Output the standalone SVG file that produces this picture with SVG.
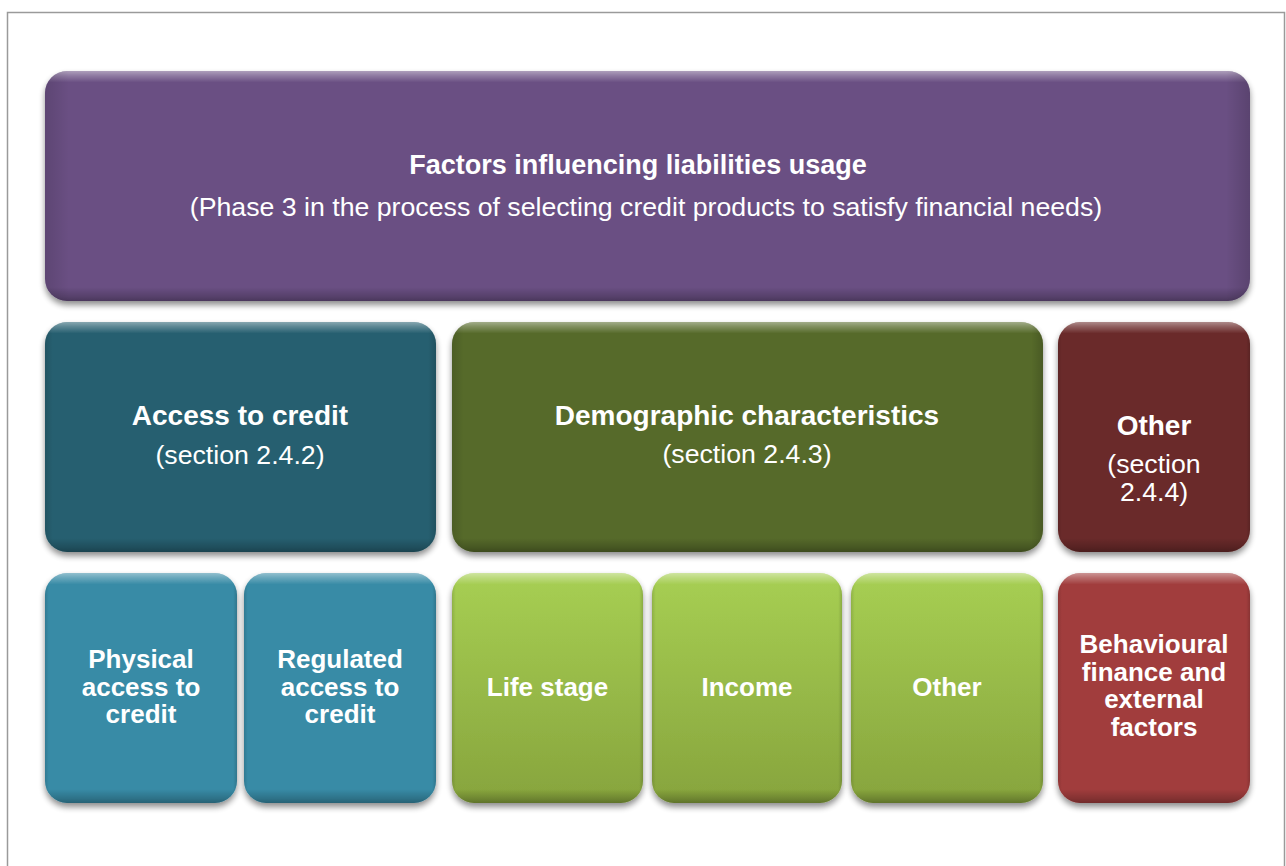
<svg xmlns="http://www.w3.org/2000/svg" width="1286" height="866" viewBox="0 0 1286 866">
  <defs>
    <filter id="shadow" x="-5%" y="-5%" width="110%" height="115%">
      <feGaussianBlur in="SourceAlpha" stdDeviation="3"/>
      <feOffset dx="0" dy="4" result="b"/>
      <feComponentTransfer><feFuncA type="linear" slope="0.45"/></feComponentTransfer>
      <feMerge><feMergeNode/><feMergeNode in="SourceGraphic"/></feMerge>
    </filter>
    <linearGradient id="bevel" x1="0" y1="0" x2="0" y2="1">
      <stop offset="0" stop-color="#ffffff" stop-opacity="0.45"/>
      <stop offset="0.02" stop-color="#ffffff" stop-opacity="0.25"/>
      <stop offset="0.05" stop-color="#ffffff" stop-opacity="0"/>
      <stop offset="0.94" stop-color="#000000" stop-opacity="0"/>
      <stop offset="0.98" stop-color="#000000" stop-opacity="0.18"/>
      <stop offset="1" stop-color="#000000" stop-opacity="0.3"/>
    </linearGradient>
    <linearGradient id="side" x1="0" y1="0" x2="1" y2="0">
      <stop offset="0" stop-color="#000000" stop-opacity="0.12"/>
      <stop offset="0.02" stop-color="#000000" stop-opacity="0"/>
      <stop offset="0.98" stop-color="#000000" stop-opacity="0"/>
      <stop offset="1" stop-color="#000000" stop-opacity="0.15"/>
    </linearGradient>
    <linearGradient id="greenGrad" x1="0" y1="0" x2="0" y2="1">
      <stop offset="0" stop-color="#A7CF53"/>
      <stop offset="1" stop-color="#87A43D"/>
    </linearGradient>
  </defs>
  <style>
    .box { filter: url(#shadow); }
    .ov { fill: url(#bevel); }
    .sd { fill: url(#side); }
    .purple { fill: #6A5083; }
    .dteal { fill: #275F6F; }
    .dgreen { fill: #576A2C; }
    .maroon { fill: #6B2A29; }
    .lteal { fill: #378BA6; }
    .lgreen { fill: url(#greenGrad); }
    .red { fill: #A13C3C; }
    text { font-family: "Liberation Sans", Arial, sans-serif; fill: #ffffff; text-anchor: middle; font-size: 26.7px; }
    .b { font-weight: bold; font-size: 26px; }
    .t { font-weight: bold; font-size: 27px; }
    .h { font-weight: bold; font-size: 28px; }
  </style>
  <rect x="0" y="0" width="1286" height="866" fill="#ffffff"/>
  <path d="M7.5 870 V12.5 H1284.5 V870" fill="none" stroke="#9a9a9a" stroke-width="1.5"/>

  <g id="connectors"></g>

  <g id="n-top">
    <g class="box"><rect x="45" y="71" width="1205" height="230" rx="22" class="purple"/></g>
    <rect x="45" y="71" width="1205" height="230" rx="22" class="ov"/>
    <rect x="45" y="71" width="1205" height="230" rx="22" class="sd"/>
    <text x="638" y="174" class="t">Factors influencing liabilities usage</text>
    <text x="646" y="216">(Phase 3 in the process of selecting credit products to satisfy financial needs)</text>
  </g>

  <g id="n-access">
    <g class="box"><rect x="45" y="322" width="391" height="230" rx="22" class="dteal"/></g>
    <rect x="45" y="322" width="391" height="230" rx="22" class="ov"/>
    <rect x="45" y="322" width="391" height="230" rx="22" class="sd"/>
    <text x="240" y="425" class="h">Access to credit</text>
    <text x="240" y="464">(section 2.4.2)</text>
  </g>

  <g id="n-demo">
    <g class="box"><rect x="452" y="322" width="591" height="230" rx="22" class="dgreen"/></g>
    <rect x="452" y="322" width="591" height="230" rx="22" class="ov"/>
    <rect x="452" y="322" width="591" height="230" rx="22" class="sd"/>
    <text x="747" y="425" class="h">Demographic characteristics</text>
    <text x="747" y="463">(section 2.4.3)</text>
  </g>

  <g id="n-other-sec">
    <g class="box"><rect x="1058" y="322" width="192" height="230" rx="22" class="maroon"/></g>
    <rect x="1058" y="322" width="192" height="230" rx="22" class="ov"/>
    <rect x="1058" y="322" width="192" height="230" rx="22" class="sd"/>
    <text x="1154" y="435" class="h">Other</text>
    <text x="1154" y="473">(section</text>
    <text x="1154" y="501">2.4.4)</text>
  </g>

  <g id="n-physical">
    <g class="box"><rect x="45" y="573" width="192" height="230" rx="22" class="lteal"/></g>
    <rect x="45" y="573" width="192" height="230" rx="22" class="ov"/>
    <rect x="45" y="573" width="192" height="230" rx="22" class="sd"/>
    <text x="141" y="668" class="b">Physical</text>
    <text x="141" y="696" class="b">access to</text>
    <text x="141" y="723" class="b">credit</text>
  </g>

  <g id="n-regulated">
    <g class="box"><rect x="244" y="573" width="192" height="230" rx="22" class="lteal"/></g>
    <rect x="244" y="573" width="192" height="230" rx="22" class="ov"/>
    <rect x="244" y="573" width="192" height="230" rx="22" class="sd"/>
    <text x="340" y="668" class="b">Regulated</text>
    <text x="340" y="696" class="b">access to</text>
    <text x="340" y="723" class="b">credit</text>
  </g>

  <g id="n-life">
    <g class="box"><rect x="452" y="573" width="191" height="230" rx="22" class="lgreen"/></g>
    <rect x="452" y="573" width="191" height="230" rx="22" class="ov"/>
    <rect x="452" y="573" width="191" height="230" rx="22" class="sd"/>
    <text x="547.5" y="696" class="b">Life stage</text>
  </g>

  <g id="n-income">
    <g class="box"><rect x="652" y="573" width="190" height="230" rx="22" class="lgreen"/></g>
    <rect x="652" y="573" width="190" height="230" rx="22" class="ov"/>
    <rect x="652" y="573" width="190" height="230" rx="22" class="sd"/>
    <text x="747" y="696" class="b">Income</text>
  </g>

  <g id="n-other">
    <g class="box"><rect x="851" y="573" width="192" height="230" rx="22" class="lgreen"/></g>
    <rect x="851" y="573" width="192" height="230" rx="22" class="ov"/>
    <rect x="851" y="573" width="192" height="230" rx="22" class="sd"/>
    <text x="947" y="696" class="b">Other</text>
  </g>

  <g id="n-behav">
    <g class="box"><rect x="1058" y="573" width="192" height="230" rx="22" class="red"/></g>
    <rect x="1058" y="573" width="192" height="230" rx="22" class="ov"/>
    <rect x="1058" y="573" width="192" height="230" rx="22" class="sd"/>
    <text x="1154" y="653" class="b">Behavioural</text>
    <text x="1154" y="681" class="b">finance and</text>
    <text x="1154" y="708" class="b">external</text>
    <text x="1154" y="736" class="b">factors</text>
  </g>
</svg>
